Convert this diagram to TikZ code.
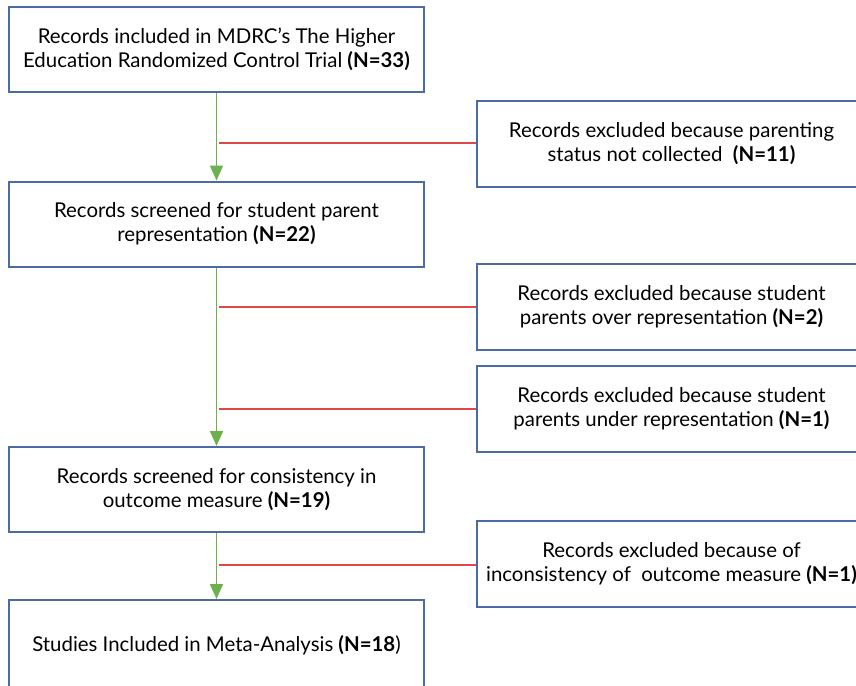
\documentclass[tikz,border=0pt]{standalone}
\usepackage{fontspec}
\setmainfont{Lato}
\usetikzlibrary{arrows.meta}
\definecolor{boxblue}{HTML}{4A6BA5}
\definecolor{flowgreen}{HTML}{6DB04E}
\definecolor{cutred}{HTML}{E04848}
\tikzset{
  stagebox/.style={draw=boxblue, line width=1pt, fill=white, minimum width=207.5pt,
    minimum height=42.5pt, align=center, font=\fontsize{10.2}{12.2}\selectfont, inner sep=0pt},
  exclbox/.style={draw=boxblue, line width=1pt, fill=white, minimum width=194.5pt,
    minimum height=43pt, align=center, font=\fontsize{10.2}{12.2}\selectfont, inner sep=0pt},
  flow/.style={draw=flowgreen, line width=0.9pt, -{Triangle[length=7.5pt,width=6.5pt]}},
  cut/.style={draw=cutred, line width=1pt},
}
\begin{document}
\begin{tikzpicture}[x=0.5pt,y=-0.5pt]
\useasboundingbox[clip] (0,0) rectangle (856,685);
\fill[white] (0,0) rectangle (856,685);
% main stages
\node[stagebox] (s1) at (216.5,49.5) {Records included in MDRC's The Higher\\Education Randomized Control Trial \textbf{(N=33)}};
\node[stagebox] (s2) at (216.5,224) {Records screened for student parent\\representation \textbf{(N=22)}};
\node[stagebox] (s3) at (216.5,489.5) {Records screened for consistency in\\outcome measure \textbf{(N=19)}};
\node[stagebox, minimum height=45pt] (s4) at (216.5,645) {Studies Included in Meta-Analysis \textbf{(N=18})};
% exclusions
\node[exclbox] (e1) at (671.5,143.5) {Records excluded because parenting\\status not collected\ \ \textbf{(N=11)}};
\node[exclbox] (e2) at (671.5,307) {Records excluded because student\\parents over representation \textbf{(N=2)}};
\node[exclbox] (e3) at (671.5,409) {Records excluded because student\\parents under representation \textbf{(N=1)}};
\node[exclbox] (e4) at (671.5,564) {Records excluded because of\\inconsistency of\ \ outcome measure \textbf{(N=1)}};
% flow arrows
\draw[flow] (s1.south) -- (s2.north);
\draw[flow] (s2.south) -- (s3.north);
\draw[flow] (s3.south) -- (s4.north);
% branch points on the flow
\coordinate (b1) at (219,143);
\coordinate (b2) at (219,307);
\coordinate (b3) at (219,409);
\coordinate (b4) at (219,565);
\draw[cut] (b1) -- (b1 -| e1.west);
\draw[cut] (b2) -- (b2 -| e2.west);
\draw[cut] (b3) -- (b3 -| e3.west);
\draw[cut] (b4) -- (b4 -| e4.west);
\end{tikzpicture}
\end{document}
